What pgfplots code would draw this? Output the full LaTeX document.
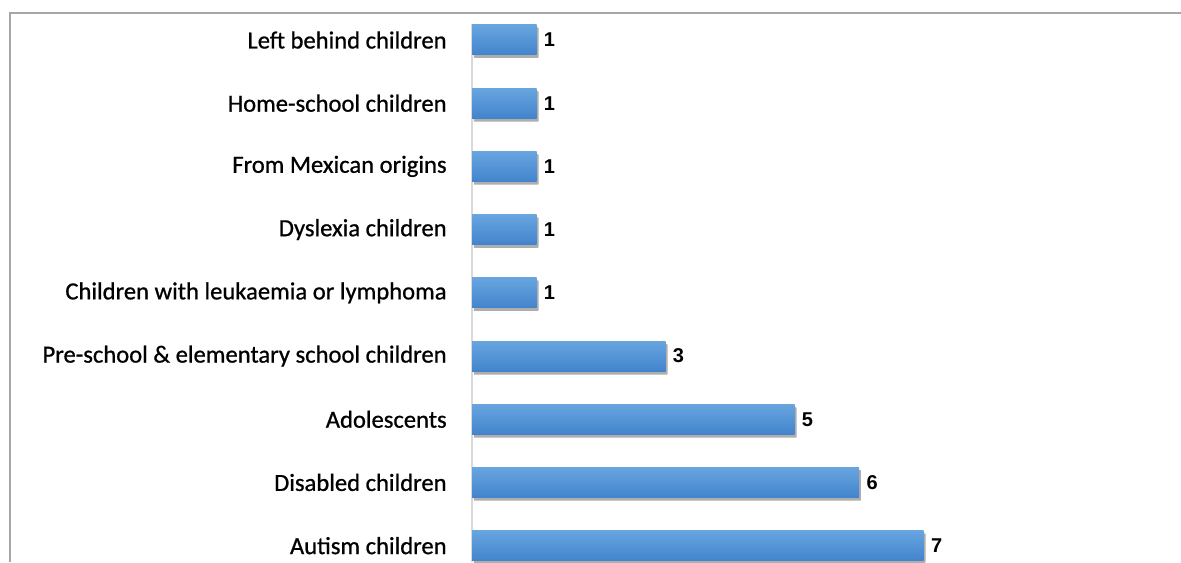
\documentclass[border=0pt]{standalone}
\usepackage{pgfplots}
\pgfplotsset{compat=1.18}
\usepackage{fontspec}
\setmainfont{Carlito}
\newfontfamily\catfont[FakeBold=0.8]{Carlito}
\newfontfamily\valuefont{Liberation Sans}
\usetikzlibrary{shadows}

\definecolor{bartop}{RGB}{104,165,224}
\definecolor{barbot}{RGB}{66,132,204}
\definecolor{framegray}{RGB}{166,166,166}
\definecolor{axisgray}{RGB}{217,217,217}

\begin{document}
\begin{tikzpicture}
\begin{axis}[
  x=32.25pt, y=31.6pt,
  xmin=0, xmax=10.99,
  ymin=-0.26, ymax=8.25,
  axis x line=none,
  axis y line*=left,
  y axis line style={draw=axisgray, line width=0.8pt, -},
  major tick length=0pt,
  ytick={0,...,8},
  yticklabels={Autism children, Disabled children, Adolescents,
    Pre-school \& elementary school children,
    Children with leukaemia or lymphoma, Dyslexia children,
    From Mexican origins, Home-school children, Left behind children},
  yticklabel style={font=\catfont\fontsize{12.3}{14}\selectfont, inner sep=0pt, xshift=-12.5pt, anchor=east},
  clip=false,
  /pgf/number format/assume math mode=true,
  nodes near coords,
  point meta=x,
  nodes near coords style={anchor=west, inner sep=0pt, xshift=3.5pt,
    font=\valuefont\bfseries\fontsize{10}{12}\selectfont, text=black},
  % one shaded bar per group, with a soft grey shadow below
  shadedbar/.style={xbar, bar width=15pt, bar shift=0pt, draw=none, mark=none,
    top color=bartop, bottom color=barbot,
    drop shadow={opacity=0.3, top color=black!70, bottom color=black!70,
      shadow xshift=0.9pt, shadow yshift=-1.5pt}},
]
\addplot[shadedbar] coordinates {(7,0)};  % Autism children
\addplot[shadedbar] coordinates {(6,1)};  % Disabled children
\addplot[shadedbar] coordinates {(5,2)};  % Adolescents
\addplot[shadedbar] coordinates {(3,3)};  % Pre-school & elementary school children
\addplot[shadedbar] coordinates {(1,4)};  % Children with leukaemia or lymphoma
\addplot[shadedbar] coordinates {(1,5)};  % Dyslexia children
\addplot[shadedbar] coordinates {(1,6)};  % From Mexican origins
\addplot[shadedbar] coordinates {(1,7)};  % Home-school children
\addplot[shadedbar] coordinates {(1,8)};  % Left behind children

% outer frame (top and left edges)
\draw[framegray, line width=1.25pt]
  (axis cs:-7.163,-0.26) -- (axis cs:-7.163,8.427) -- (axis cs:10.99,8.427);
\coordinate (bbl) at (axis cs:-7.318,-0.26);
\coordinate (btr) at (axis cs:10.99,8.633);
\end{axis}
\pgfresetboundingbox
\useasboundingbox (bbl) rectangle (btr);
\end{tikzpicture}
\end{document}
